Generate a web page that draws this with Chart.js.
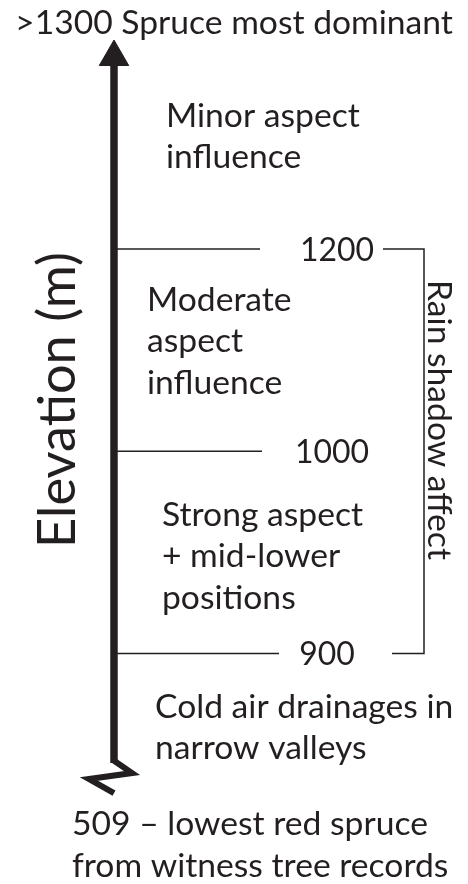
<!DOCTYPE html>
<html>
<head>
<meta charset="utf-8">
<script src="https://cdn.jsdelivr.net/npm/chart.js@4"></script>
<style>
    html, body { margin: 0; padding: 0; background: #fff; }
    #chart { display: block; }
</style>
</head>
<body>
<canvas id="chart" width="468" height="884"></canvas>
<script>
// elevation thresholds (m), bottom to top
const thresholds = [900, 1000, 1200];
const thresholdLabels = ['900', '1000', '1200'];
// notes for each band, bottom to top
const bandNotes = [
    ['Cold air drainages in', 'narrow valleys'],
    ['Strong aspect', '+ mid-lower', 'positions'],
    ['Moderate', 'aspect', 'influence'],
    ['Minor aspect', 'influence']
];
const topNote = ['>1300 Spruce most dominant'];
const bottomNote = ['509 \u2013 lowest red spruce', 'from witness tree records'];
const bracketRange = [900, 1200];
const bracketNote = 'Rain shadow affect';
const axisTitle = 'Elevation (m)';

// layout: x in canvas units, y in "tier" units (tier n = nth threshold)
const ink = '#231f20';
const FONT = 'Lato, "Noto Sans", sans-serif';
const Y_MIN = -0.140, Y_MAX = 4.232;
const AXIS_X = 114;
const AXIS_BOTTOM = 0.458, AXIS_TOP = 3.95;
const LINE_END = [279, 262, 260];
const LABEL_CENTER = [327, 332, 337];
const BRACKET_X = 424, BRACKET_START = [392, 383];
const NOTE_X = [155, 162, 147, 166];
const NOTE_TIER = [0.681, 1.631, 2.694, 3.604];
const TOP_TIER = 4.064, BOTTOM_TIER = 0.102;
const LINE_GAP = 41.5;

const tierOf = elev => thresholds.indexOf(elev) + 1;

const datasets = thresholds.map((t, i) => ({
    data: [{x: AXIS_X, y: tierOf(t)}, {x: LINE_END[i], y: tierOf(t)}],
    showLine: true,
    borderColor: ink,
    borderWidth: 1.5,
    pointRadius: 0
}));

const bTop = tierOf(bracketRange[1]), bBot = tierOf(bracketRange[0]);
datasets.push({
    data: [
        {x: BRACKET_START[1], y: bTop}, {x: BRACKET_X, y: bTop},
        {x: BRACKET_X, y: bBot}, {x: BRACKET_START[0], y: bBot}
    ],
    showLine: true,
    borderColor: ink,
    borderWidth: 1.5,
    borderJoinStyle: 'miter',
    pointRadius: 0
});

// axis shaft with arrow head
datasets.push({
    data: [{x: AXIS_X, y: AXIS_BOTTOM}, {x: AXIS_X, y: AXIS_TOP}],
    showLine: true,
    borderColor: ink,
    borderWidth: 7.5,
    borderCapStyle: 'butt',
    pointStyle: 'triangle',
    pointRadius: [0, 17],
    pointBackgroundColor: ink,
    pointBorderColor: ink,
    pointBorderWidth: 1
});

function fitSize(ctx, text, width) {
    ctx.font = '100px ' + FONT;
    return 100 * width / ctx.measureText(text).width;
}

const notesPlugin = {
    id: 'notes',
    afterDatasetsDraw(chart) {
        const {ctx, scales: {x, y}} = chart;
        ctx.save();
        ctx.fillStyle = ink;
        ctx.strokeStyle = ink;

        // break mark at the bottom of the axis
        const bx = x.getPixelForValue(AXIS_X), by = y.getPixelForValue(AXIS_BOTTOM);
        ctx.lineWidth = 6;
        ctx.lineJoin = 'miter';
        ctx.beginPath();
        ctx.moveTo(bx - 1, by - 3);
        ctx.lineTo(bx + 18, by + 10);
        ctx.lineTo(bx - 25, by + 16);
        ctx.lineTo(bx, by + 30);
        ctx.stroke();

        const size = fitSize(ctx, topNote[0], 438);
        ctx.font = size + 'px ' + FONT;
        ctx.textBaseline = 'alphabetic';

        ctx.textAlign = 'center';
        ctx.fillText(topNote[0], x.getPixelForValue(234), y.getPixelForValue(TOP_TIER));

        // threshold labels, digits a touch narrower
        ctx.save();
        ctx.font = (size * 0.95) + 'px ' + FONT;
        thresholds.forEach((t, i) => {
            ctx.fillText(thresholdLabels[i], x.getPixelForValue(LABEL_CENTER[i]),
                y.getPixelForValue(tierOf(t)) + size * 0.35);
        });
        ctx.restore();

        ctx.textAlign = 'left';
        bottomNote.forEach((line, i) => {
            ctx.fillText(line, x.getPixelForValue(72), y.getPixelForValue(BOTTOM_TIER) + i * LINE_GAP);
        });

        bandNotes.forEach((lines, b) => {
            const base = y.getPixelForValue(NOTE_TIER[b]);
            lines.forEach((line, i) => {
                ctx.fillText(line, x.getPixelForValue(NOTE_X[b]), base + i * LINE_GAP);
            });
        });

        // bracket note, reading downwards
        ctx.save();
        ctx.translate(x.getPixelForValue(427.5), 420);
        ctx.rotate(Math.PI / 2);
        ctx.textAlign = 'center';
        ctx.fillText(bracketNote, 0, 0);
        ctx.restore();

        // axis title, reading upwards
        const tSize = fitSize(ctx, axisTitle, 296);
        ctx.font = tSize + 'px ' + FONT;
        ctx.save();
        ctx.translate(x.getPixelForValue(75), 400);
        ctx.rotate(-Math.PI / 2);
        ctx.textAlign = 'center';
        ctx.fillText(axisTitle, 0, 0);
        ctx.restore();

        ctx.restore();
    }
};

new Chart(document.getElementById('chart'), {
    type: 'scatter',
    data: {datasets: datasets},
    options: {
        responsive: false,
        animation: false,
        layout: {padding: 0, autoPadding: false},
        plugins: {legend: {display: false}, tooltip: {enabled: false}},
        events: [],
        scales: {
            x: {type: 'linear', min: 0, max: 468, display: false},
            y: {type: 'linear', min: Y_MIN, max: Y_MAX, display: false}
        }
    },
    plugins: [notesPlugin]
});
</script>
</body>
</html>
